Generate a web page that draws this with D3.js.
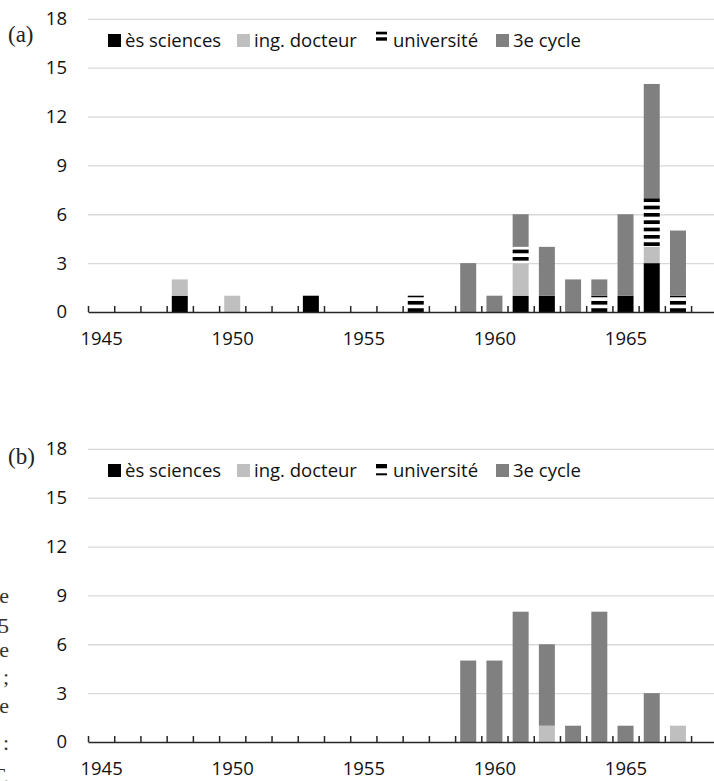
<!DOCTYPE html>
<html><head><meta charset="utf-8">
<script src="https://cdn.jsdelivr.net/npm/d3@7"></script>
<style>body{margin:0;background:#fff;} svg{display:block}</style>
</head><body><svg id="c" width="714" height="781"></svg>
<script>
// ---------- data ----------
const years = [1945,1946,1947,1948,1949,1950,1951,1952,1953,1954,1955,1956,1957,1958,1959,1960,1961,1962,1963,1964,1965,1966,1967,1968];
const yearLabels = [1945,1950,1955,1960,1965];
const yTicks = [0,3,6,9,12,15,18];
const seriesKeys = ["sciences","ing","univ","cycle"];
const seriesNames = ["ès sciences","ing. docteur","université","3e cycle"];

// chart (a)
const aYears    = [1948,1950,1953,1957,1959,1960,1961,1962,1963,1964,1965,1966,1967];
const aSciences = [1,   0,   1,   0,   0,   0,   1,   1,   0,   0,   1,   3,   0];
const aIng      = [1,   1,   0,   0,   0,   0,   2,   0,   0,   0,   0,   1,   0];
const aUniv     = [0,   0,   0,   1,   0,   0,   1,   0,   0,   1,   0,   3,   1];
const aCycle    = [0,   0,   0,   0,   3,   1,   2,   3,   2,   1,   5,   7,   4];

// chart (b)
const bYears    = [1959,1960,1961,1962,1963,1964,1965,1966,1967];
const bSciences = [0,   0,   0,   0,   0,   0,   0,   0,   0];
const bIng      = [0,   0,   0,   1,   0,   0,   0,   0,   1];
const bUniv     = [0,   0,   0,   0,   0,   0,   0,   0,   0];
const bCycle    = [5,   5,   8,   5,   1,   8,   1,   3,   0];

// cropped margin text fragments (left edge of bottom panel)
const marginText = ["e","5","e",";","e",":","T."];

// ---------- drawing ----------
const svg = d3.select("#c");
const FONT = "'Open Sans', 'Noto Sans', sans-serif";
const SERIF = "'Liberation Serif', 'DejaVu Serif', serif";
const colors = {sciences:"#000000", ing:"#bfbfbf", univ:"url(#stripes)", cycle:"#808080"};

const defs = svg.append("defs");
const pat = defs.append("pattern").attr("id","stripes")
  .attr("patternUnits","userSpaceOnUse").attr("width",10).attr("height",7.33).attr("y",0.4);
pat.append("rect").attr("width",10).attr("height",7.33).attr("fill","#fff");
pat.append("rect").attr("width",10).attr("height",3.7).attr("fill","#000");

const x = d3.scaleLinear().domain([years[0]-0.5, years[years.length-1]+0.5]).range([88, 717.3]);
const barW = 0.61; // fraction of category

function drawChart(offY, label, yrs, sci, ing, uni, cyc, legendUni) {
  const g = svg.append("g").attr("transform", `translate(0,${offY})`);
  const y = d3.scaleLinear().domain([0,18]).range([312, 18.8]);

  // gridlines
  g.append("g").attr("transform","translate(88,0)")
    .call(d3.axisLeft(y).tickValues(yTicks.filter(d=>d>0)).tickSize(-(714-88)).tickFormat(""))
    .call(s=>s.select(".domain").remove())
    .call(s=>s.selectAll("line").attr("stroke","#d9d9d9").attr("stroke-width",1.3));

  // y labels
  g.append("g").attr("transform","translate(88,0)")
    .call(d3.axisLeft(y).tickValues(yTicks).tickSize(0).tickPadding(21))
    .call(s=>s.select(".domain").remove())
    .call(s=>s.selectAll("text").attr("font-family",FONT).attr("font-size",18.5).attr("fill","#111"));

  // bars
  const rows = yrs.map((yr,i)=>({year:yr, sciences:sci[i], ing:ing[i], univ:uni[i], cycle:cyc[i]}));
  const stack = d3.stack().keys(seriesKeys)(rows);
  g.append("g").selectAll("g").data(stack).join("g")
    .attr("fill", d=>colors[d.key])
    .selectAll("rect").data(d=>d.filter(p=>p[1]-p[0]>0)).join("rect")
    .attr("x", d=>x(d.data.year - barW/2))
    .attr("width", d=>x(d.data.year + barW/2) - x(d.data.year - barW/2))
    .attr("y", d=>y(d[1]))
    .attr("height", d=>y(d[0]) - y(d[1]));

  // x axis ticks (between categories, pointing up)
  const bounds = years.map(d=>d-0.5).concat([years[years.length-1]+0.5]);
  g.append("g").attr("transform","translate(0,312)")
    .call(d3.axisBottom(x).tickValues(bounds).tickSize(-6).tickSizeOuter(0).tickFormat(""))
    .call(s=>s.select(".domain").attr("stroke","#262626").attr("stroke-width",1.5))
    .call(s=>s.selectAll("line").attr("stroke","#262626").attr("stroke-width",1.5));

  // x labels
  g.append("g").attr("transform","translate(0,312)")
    .call(d3.axisBottom(x).tickValues(yearLabels).tickSize(0).tickPadding(20).tickFormat(d3.format("d")))
    .call(s=>s.select(".domain").remove())
    .call(s=>s.selectAll("text").attr("font-family",FONT).attr("font-size",18.5).attr("fill","#111"));

  // legend
  const lx = [108, 237, 376, 496];
  const lg = g.append("g");
  seriesKeys.forEach((k,i)=>{
    if (k === "univ") {
      legendUni.forEach(r=>lg.append("rect").attr("x",lx[i]).attr("y",r[0]).attr("width",11).attr("height",r[1]).attr("fill","#000"));
    } else {
      lg.append("rect").attr("x",lx[i]).attr("y",34).attr("width",13).attr("height",13).attr("fill",colors[k]);
    }
    lg.append("text").attr("x",lx[i]+17).attr("y",40.5).attr("dy","0.35em")
      .attr("font-family",FONT).attr("font-size",18.5).attr("fill","#111").text(seriesNames[i]);
  });

  // panel label
  g.append("text").attr("x",8).attr("y",label.y).attr("font-family",SERIF)
    .attr("font-size",23).attr("fill","#222").text(label.t);
}

drawChart(0, {t:"(a)", y:41.7}, aYears, aSciences, aIng, aUniv, aCycle, [[31.7,2.7],[37.3,3.4]]);
drawChart(430, {t:"(b)", y:34}, bYears, bSciences, bIng, bUniv, bCycle, [[34,4.3],[43.3,2]]);

// margin fragments
const mY = [603, 633, 657, 684, 713, 750, 783];
svg.append("g").selectAll("text").data(marginText).join("text")
  .attr("x", 9).attr("y", (d,i)=>mY[i]).attr("text-anchor","end")
  .attr("font-family",SERIF).attr("font-size",22).attr("fill","#333").text(d=>d);
</script></body></html>
